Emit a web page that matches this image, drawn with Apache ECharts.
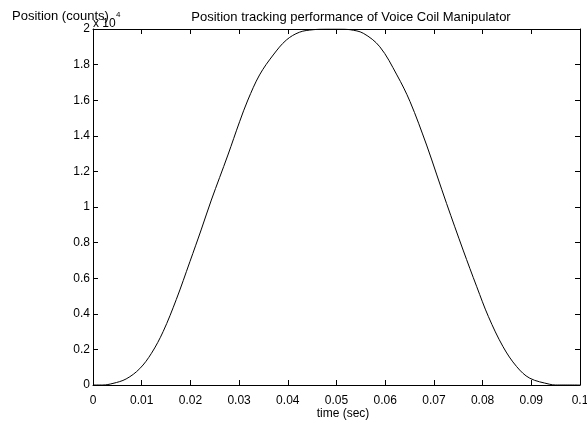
<!DOCTYPE html>
<html><head><meta charset="utf-8">
<script src="https://cdn.jsdelivr.net/npm/echarts@6/dist/echarts.min.js"></script>
<style>html,body{margin:0;padding:0;background:#fff}#c{width:587px;height:421px}</style>
</head><body><div id="c"></div>
<script>
var timeSec = [0, 0.002, 0.0041, 0.0068, 0.0096, 0.012, 0.0144, 0.0171, 0.0199, 0.0222, 0.0243, 0.0277, 0.0301, 0.0318, 0.0342, 0.037, 0.0397, 0.0424, 0.0452, 0.0479, 0.0505, 0.0528, 0.0555, 0.0589, 0.0624, 0.0651, 0.0685, 0.0706, 0.0726, 0.076, 0.0788, 0.0812, 0.0842, 0.087, 0.0897, 0.0938, 0.095, 0.1];
var positionCounts = [0, 0, 90, 340, 920, 1780, 3000, 4800, 6930, 8710, 10390, 12920, 14790, 16010, 17420, 18540, 19380, 19820, 19960, 20000, 20000, 19960, 19760, 19000, 17420, 15920, 13480, 11800, 10200, 7580, 5520, 3840, 2150, 1030, 380, 40, 0, 0];
var xTickLabels = ['0','0.01','0.02','0.03','0.04','0.05','0.06','0.07','0.08','0.09','0.1'];
var yTickLabels = ['0','0.2','0.4','0.6','0.8','1','1.2','1.4','1.6','1.8','2'];

var chart = echarts.init(document.getElementById('c'), null, {renderer:'canvas'});
var font = 'Liberation Sans, Arial, Helvetica, sans-serif';
var axLine = {show:true, onZero:false, lineStyle:{color:'#000', width:1}};
var tick = {show:true, inside:true, length:5, lineStyle:{color:'#000', width:1}};
var seriesData = timeSec.map(function(t,i){return [t, positionCounts[i]];});
chart.setOption({
  animation:false,
  backgroundColor:'#fff',
  textStyle:{fontFamily:font},
  grid:{left:93, right:7, top:29, bottom:36, containLabel:false, outerBoundsMode:'none'},
  xAxis:[{type:'value', min:0, max:0.1, interval:0.01, position:'bottom',
    axisLine:axLine, axisTick:tick, splitLine:{show:false},
    axisLabel:{margin:10, fontSize:12, color:'#000', fontFamily:font,
      formatter:function(v){return xTickLabels[Math.round(v/0.01)];}}},
   {type:'value', min:0, max:0.1, interval:0.01, position:'top',
    axisLine:axLine, axisTick:tick, axisLabel:{show:false}, splitLine:{show:false}}],
  yAxis:[{type:'value', min:0, max:20000, interval:2000, position:'left',
    axisLine:axLine, axisTick:tick, splitLine:{show:false},
    axisLabel:{margin:3, fontSize:12, color:'#000', fontFamily:font,
      formatter:function(v){return yTickLabels[Math.round(v/2000)];}}},
   {type:'value', min:0, max:20000, interval:2000, position:'right',
    axisLine:axLine, axisTick:tick, axisLabel:{show:false}, splitLine:{show:false}}],
  graphic:[
    {type:'text', x:351, y:11, style:{text:'Position tracking performance of Voice Coil Manipulator', fontSize:13, fill:'#000', fontFamily:font, align:'center'}},
    {type:'text', x:12, y:10, style:{text:'Position (counts)', fontSize:13, fill:'#000', fontFamily:font}},
    {type:'text', x:93, y:18, style:{text:'x 10', fontSize:12, fill:'#000', fontFamily:font}},
    {type:'text', x:116, y:11, style:{text:'4', fontSize:8, fill:'#000', fontFamily:font}},
    {type:'text', x:343, y:408, style:{text:'time (sec)', fontSize:12, fill:'#000', fontFamily:font, align:'center'}}
  ],
  series:[{type:'line', data:seriesData, smooth:0.35, showSymbol:false, symbol:'none',
    lineStyle:{color:'#000', width:1}}]
});
</script></body></html>
